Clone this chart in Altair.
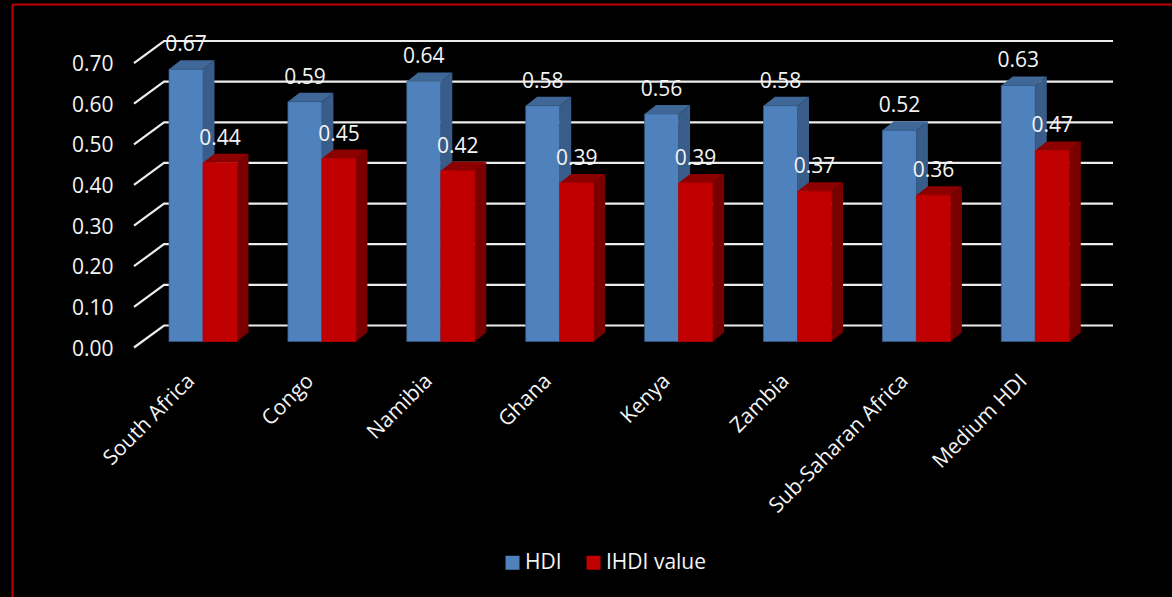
import json
import altair as alt
import pandas as pd

CATEGORIES = ["South Africa", "Congo", "Namibia", "Ghana", "Kenya", "Zambia",
              "Sub-Saharan Africa", "Medium HDI"]
HDI = [0.67, 0.59, 0.64, 0.58, 0.56, 0.58, 0.52, 0.63]
IHDI = [0.44, 0.45, 0.42, 0.39, 0.39, 0.37, 0.36, 0.47]
TICKS = [0.0, 0.1, 0.2, 0.3, 0.4, 0.5, 0.6, 0.7]
SERIES = ["HDI", "IHDI value"]

FONT = "Open Sans"
TEXT = "#F4F4F4"
FRONT = ["#4F81BD", "#C00000"]
SIDE = ["#385D8A", "#7A0000"]
TOP = ["#3F6797", "#8C0000"]

# Plot geometry: pixels per group / per unit, used to express the 3D offsets in data units
PX_X = 118.9
PX_Y = 406.4
BAR_W = 34 / PX_X
DEPTH_X = 11.5 / PX_X
DEPTH_Y = 9 / PX_Y
BASE = 6 / PX_Y
WALL_X = 30 / PX_X
WALL_Y = 22 / PX_Y
X_MIN, X_MAX = -69 / PX_X, 910 / PX_X
Y_MAX = 307.5 / PX_Y

axis_common = dict(title=None, grid=False, domain=False, ticks=False, labelColor=TEXT,
                   labelFont=FONT, labelFontSize=21, labelOverlap=False, labelBound=False,
                   labelFlush=False, labelLimit=400)
x_axis = alt.Axis(values=list(range(len(CATEGORIES))), labelAngle=-45, labelAlign="right",
                  labelBaseline="middle", labelPadding=30, labelOffset=-12,
                  labelExpr=json.dumps(CATEGORIES) + "[datum.value]", **axis_common)
y_axis = alt.Axis(values=TICKS, format=".2f", labelPadding=21, labelOffset=1.5, **axis_common)
x_scale = alt.Scale(domain=[X_MIN, X_MAX], nice=False, zero=False)
y_scale = alt.Scale(domain=[0, Y_MAX], nice=False, zero=False)
X = alt.X("x:Q", scale=x_scale, axis=x_axis)
Y = alt.Y("y:Q", scale=y_scale, axis=y_axis)

# Wall gridlines: a slanted floor segment followed by the long horizontal run
grid_rows = []
for t in TICKS:
    grid_rows.append(dict(t=t, x=X_MIN, y=t))
    grid_rows.append(dict(t=t, x=X_MIN + WALL_X, y=t + WALL_Y))
    grid_rows.append(dict(t=t, x=X_MAX, y=t + WALL_Y))
layers = [
    alt.Chart(pd.DataFrame(grid_rows)).mark_line(color="#EDEDED", strokeWidth=2.2, clip=False)
    .encode(x=X, y=Y, detail="t:N", order="x:Q")
]

label_rows = []
for s, (name, values, shift) in enumerate(zip(SERIES, [HDI, IHDI], [-BAR_W, 0.0])):
    side, top, front = [], [], []
    for g, v in enumerate(values):
        left = g + shift
        right = left + BAR_W
        roof = v + BASE
        side += [dict(g=g, x=right, y=BASE, y2=roof),
                 dict(g=g, x=right + DEPTH_X, y=BASE + DEPTH_Y, y2=roof + DEPTH_Y)]
        top += [dict(g=g, x=left, y=roof, y2=roof),
                dict(g=g, x=left + DEPTH_X, y=roof, y2=roof + DEPTH_Y),
                dict(g=g, x=right, y=roof, y2=roof + DEPTH_Y),
                dict(g=g, x=right + DEPTH_X, y=roof + DEPTH_Y, y2=roof + DEPTH_Y)]
        front.append(dict(series=name, x=left, x2=right, y=BASE, y2=roof))
        label_rows.append(dict(x=left + BAR_W / 2, y=roof, value=v))
    layers.append(alt.Chart(pd.DataFrame(side))
                  .mark_area(color=SIDE[s], line=False, orient="vertical")
                  .encode(x=X, y=Y, y2="y2:Q", detail="g:N"))
    layers.append(alt.Chart(pd.DataFrame(top))
                  .mark_area(color=TOP[s], line=False, orient="vertical")
                  .encode(x=X, y=Y, y2="y2:Q", detail="g:N"))
    layers.append(alt.Chart(pd.DataFrame(front)).mark_rect(stroke=SIDE[s] if s == 0 else FRONT[s],
                                                           strokeWidth=0.7)
                  .encode(x=X, x2="x2:Q", y=Y, y2="y2:Q",
                          color=alt.Color("series:N",
                                          scale=alt.Scale(domain=SERIES, range=FRONT),
                                          legend=alt.Legend(
                                              title=None, orient="none", direction="horizontal",
                                              legendX=368, legendY=512,
                                              symbolType="square", symbolSize=196,
                                              symbolStrokeWidth=0, labelColor=TEXT,
                                              labelFont=FONT, labelFontSize=21,
                                              labelOffset=2, columnPadding=21))))

layers.append(alt.Chart(pd.DataFrame(label_rows))
              .mark_text(color=TEXT, font=FONT, fontSize=21, baseline="middle", dy=-24)
              .encode(x=X, y=Y, text=alt.Text("value:Q", format=".2f")))

# Thin red frame along the top and left edges of the slide
frame_top = alt.Chart(pd.DataFrame({"k": [0]})).mark_rule(color="#C00000", strokeWidth=2).encode(
    x=alt.value(-121.5), x2=alt.value(1040), y=alt.value(-35.5))
frame_left = alt.Chart(pd.DataFrame({"k": [0]})).mark_rule(color="#C00000", strokeWidth=2).encode(
    x=alt.value(-121.5), y=alt.value(-35.5), y2=alt.value(560))
layers += [frame_top, frame_left]

chart = alt.layer(*layers).properties(
    width=979, height=307.5, background="black",
    padding={"left": 134, "top": 40, "right": 59, "bottom": 249.5},
    autosize=alt.AutoSizeParams(type="none"),
).configure_view(stroke=None)

chart.save("out.html", embed_options={"renderer": "svg", "actions": False})
